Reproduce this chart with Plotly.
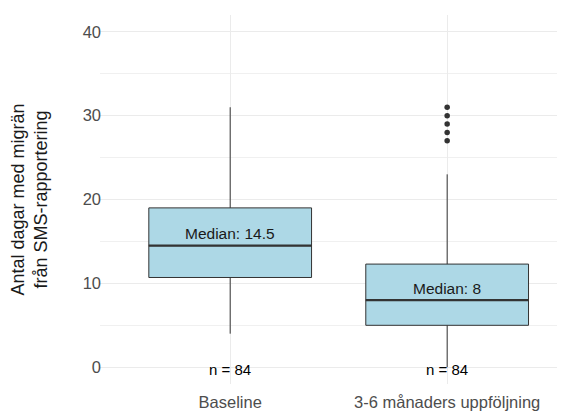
import plotly.graph_objects as go

categories = ["Baseline", "3-6 månaders uppföljning"]
q1 = [10.7, 5.0]
median = [14.5, 8.0]
q3 = [19.0, 12.3]
lower_whisker = [4.0, 0.0]
upper_whisker = [31.0, 23.0]
outliers = [[], [27, 28, 29, 30, 31]]
n_obs = [84, 84]
y_ticks = [0, 10, 20, 30, 40]

FONT = "Liberation Sans, Arial, sans-serif"
BOX_W = 0.75
xpos = list(range(len(categories)))

fig = go.Figure()

for i, cat in enumerate(categories):
    fig.add_trace(go.Box(
        x=[xpos[i]], q1=[q1[i]], median=[median[i]], q3=[q3[i]],
        lowerfence=[lower_whisker[i]], upperfence=[upper_whisker[i]],
        width=BOX_W, fillcolor="#ADD8E6",
        line=dict(color="#333333", width=1),
        boxpoints=False, whiskerwidth=0, showlegend=False, hoverinfo="skip",
    ))
    # thicker median line
    fig.add_trace(go.Scatter(
        x=[xpos[i] - BOX_W / 2, xpos[i] + BOX_W / 2], y=[median[i], median[i]],
        mode="lines", line=dict(color="#333333", width=2.2),
        showlegend=False, hoverinfo="skip",
    ))
    if outliers[i]:
        fig.add_trace(go.Scatter(
            x=[xpos[i]] * len(outliers[i]), y=outliers[i], mode="markers",
            marker=dict(color="#333333", size=5.5),
            showlegend=False, hoverinfo="skip",
        ))
    fig.add_annotation(
        x=xpos[i], y=median[i], text=f"Median: {median[i]:g}", showarrow=False,
        yanchor="middle", yshift=12, font=dict(family=FONT, size=15.5, color="#1a1a1a"),
    )
    fig.add_annotation(
        x=xpos[i], y=0, text=f"n = {n_obs[i]}", showarrow=False,
        yanchor="middle", yshift=-2, font=dict(family=FONT, size=15, color="#000000"),
    )

# page body has an 8px offset; margins compensate so the plot area sits as in the reference
fig.update_layout(
    width=565, height=414,
    margin=dict(l=92, r=0, t=7, b=38),
    plot_bgcolor="white", paper_bgcolor="white",
    font=dict(family=FONT, size=16.5, color="#4D4D4D"),
    xaxis=dict(
        range=[-0.6, 1.58], tickmode="array", tickvals=xpos, ticktext=categories,
        showgrid=True, gridcolor="#EBEBEB", gridwidth=1, zeroline=False,
        showline=False, ticks="", ticklabelstandoff=6,
        tickfont=dict(family=FONT, size=16.5, color="#4D4D4D"),
    ),
    yaxis=dict(
        range=[-2, 42], tickmode="array", tickvals=y_ticks,
        showgrid=True, gridcolor="#EBEBEB", gridwidth=1.2, zeroline=False,
        showline=False, ticks="", ticklabelstandoff=-2,
        minor=dict(dtick=5, tick0=5, showgrid=True, gridcolor="#F0F0F0", gridwidth=1),
        tickfont=dict(family=FONT, size=16.5, color="#4D4D4D"),
        title=dict(text="Antal dagar med migrän<br>från SMS-rapportering",
                   font=dict(family=FONT, size=18, color="#1a1a1a"), standoff=32),
    ),
)

fig.write_html("out.html")
